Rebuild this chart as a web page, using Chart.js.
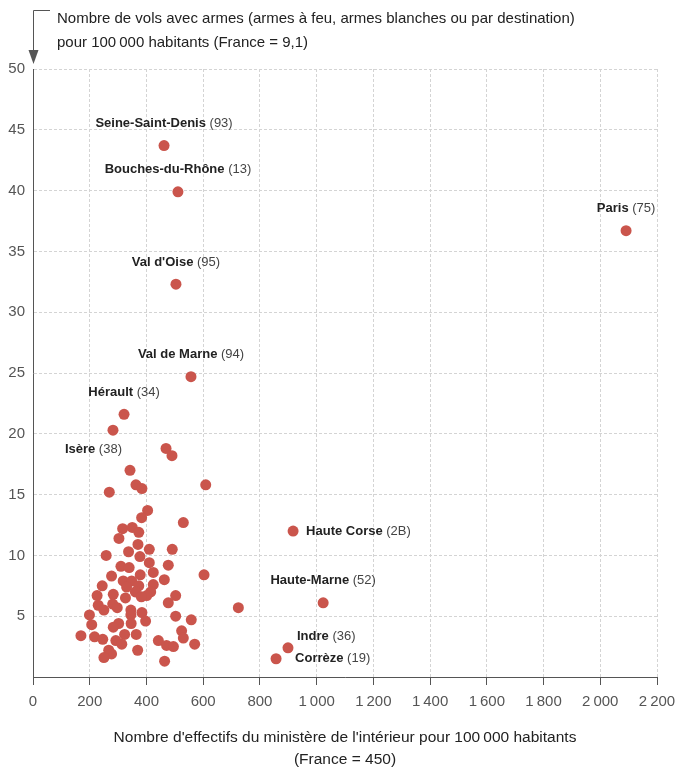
<!DOCTYPE html>
<html>
<head>
<meta charset="utf-8">
<script src="https://cdn.jsdelivr.net/npm/chart.js@4"></script>
<style>
  body { margin: 0; background: #fff; }
  #wrap { width: 677px; height: 767px; position: relative; }
</style>
</head>
<body>
<div id="wrap"><canvas id="chart"></canvas></div>
<script>
// labelled departements
const deptNames = ['Seine-Saint-Denis', 'Bouches-du-Rhône', 'Paris', "Val d'Oise", 'Val de Marne',
  'Hérault', 'Isère', 'Haute Corse', 'Haute-Marne', 'Indre', 'Corrèze'];
const deptCodes = ['93', '13', '75', '95', '94', '34', '38', '2B', '52', '36', '19'];
const deptX = [462, 511, 2091, 504, 557, 321, 282, 917, 1023, 899, 857];
const deptY = [43.7, 39.9, 36.7, 32.3, 24.7, 21.6, 20.3, 12.0, 6.1, 2.4, 1.5];

// other departements
const otherX = [469, 490, 342, 363, 384, 269, 609, 404, 383, 530, 316, 350, 373, 303, 370, 337, 410, 491,
  258, 377, 410, 477, 310, 339, 424, 378, 277, 603, 463, 318, 348, 373, 424, 244, 330, 361, 415, 401, 226,
  283, 503, 326, 382, 477, 281, 297, 230, 250, 345, 384, 724, 199, 503, 345, 207, 397, 558, 302, 283, 346,
  524, 169, 217, 246, 323, 364, 292, 313, 442, 530, 471, 495, 570, 267, 277, 250, 369, 464];
const otherY = [18.8, 18.2, 17.0, 15.8, 15.5, 15.2, 15.8, 13.7, 13.1, 12.7, 12.2, 12.3, 11.9, 11.4, 10.9, 10.3, 10.5, 10.5,
  10.0, 9.9, 9.4, 9.2, 9.1, 9.0, 8.6, 8.4, 8.3, 8.4, 8.0, 7.9, 7.9, 7.5, 7.6, 7.5, 7.4, 7.0, 7.0, 6.7, 6.7,
  6.8, 6.7, 6.5, 6.6, 6.1, 6.0, 5.7, 5.9, 5.5, 5.5, 5.3, 5.7, 5.1, 5.0, 5.1, 4.3, 4.6, 4.7, 4.4, 4.1, 4.4,
  3.8, 3.4, 3.3, 3.1, 3.5, 3.5, 3.0, 2.7, 3.0, 3.2, 2.6, 2.5, 2.7, 2.2, 1.9, 1.6, 2.2, 1.3];

const xTicks = [0, 200, 400, 600, 800, 1000, 1200, 1400, 1600, 1800, 2000, 2200];

const FONT = "'Liberation Sans', Arial, sans-serif";
const DOT = '#ca554c';

function fmt(v) {
  return String(v).replace(/\B(?=(\d{3})+(?!\d))/g, '\u2009');
}

// where each label sits relative to its dot
const placement = {
  'Isère': { dx: 9, dy: 19, align: 'right' },
  'Haute Corse': { dx: 13, dy: 0, align: 'left' },
  'Indre': { dx: 9, dy: -11, align: 'left' },
  'Corrèze': { dx: 19, dy: 0, align: 'left' }
};

const labelPlugin = {
  id: 'deptLabels',
  afterDatasetsDraw(chart) {
    const ctx = chart.ctx;
    const meta = chart.getDatasetMeta(0);
    ctx.save();
    ctx.textBaseline = 'middle';
    meta.data.forEach((pt, i) => {
      const bold = deptNames[i];
      const norm = ' (' + deptCodes[i] + ')';
      ctx.font = 'bold 13px ' + FONT;
      const wb = ctx.measureText(bold).width;
      ctx.font = '13px ' + FONT;
      const wn = ctx.measureText(norm).width;
      const p = placement[bold] || { dx: 0, dy: -22, align: 'center' };
      let x0;
      if (p.align === 'center') x0 = pt.x - (wb + wn) / 2;
      else if (p.align === 'left') x0 = pt.x + p.dx;
      else x0 = pt.x + p.dx - (wb + wn);
      const y = pt.y + p.dy;
      ctx.textAlign = 'left';
      ctx.fillStyle = '#222';
      ctx.font = 'bold 13px ' + FONT;
      ctx.fillText(bold, x0, y);
      ctx.fillStyle = '#444';
      ctx.font = '13px ' + FONT;
      ctx.fillText(norm, x0 + wb, y);
    });
    ctx.restore();
  }
};

const headerPlugin = {
  id: 'header',
  afterDraw(chart) {
    const ctx = chart.ctx;
    const x = chart.chartArea.left + 0.5;
    ctx.save();
    ctx.strokeStyle = '#555';
    ctx.fillStyle = '#555';
    ctx.lineWidth = 1;
    ctx.beginPath();
    ctx.moveTo(50, 10.5);
    ctx.lineTo(x, 10.5);
    ctx.lineTo(x, 52);
    ctx.stroke();
    ctx.beginPath();
    ctx.moveTo(x - 5, 50);
    ctx.lineTo(x + 5, 50);
    ctx.lineTo(x, 64);
    ctx.closePath();
    ctx.fill();
    ctx.fillStyle = '#222';
    ctx.font = '15px ' + FONT;
    ctx.textAlign = 'left';
    ctx.textBaseline = 'alphabetic';
    ctx.fillText('Nombre de vols avec armes (armes à feu, armes blanches ou par destination)', 57, 23);
    ctx.fillText('pour 100\u2009000 habitants (France = 9,1)', 57, 47);
    ctx.restore();
  }
};

new Chart(document.getElementById('chart'), {
  type: 'scatter',
  data: {
    datasets: [
      {
        data: deptX.map((x, i) => ({ x: x, y: deptY[i] })),
        backgroundColor: DOT,
        borderWidth: 0,
        pointRadius: 5.5
      },
      {
        data: otherX.map((x, i) => ({ x: x, y: otherY[i] })),
        backgroundColor: DOT,
        borderWidth: 0,
        pointRadius: 5.5
      }
    ]
  },
  options: {
    responsive: true,
    maintainAspectRatio: false,
    animation: false,
    layout: { padding: { top: 69, right: 20, left: 0, bottom: 0 } },
    plugins: {
      legend: { display: false },
      tooltip: { enabled: false }
    },
    scales: {
      x: {
        type: 'linear',
        min: 0,
        max: 2200,
        afterBuildTicks: (s) => { s.ticks = xTicks.map(v => ({ value: v })); },
        afterFit: (s) => { s.height = 90; s.paddingLeft = 0; s.paddingRight = 0; },
        ticks: {
          color: '#555',
          font: { family: FONT, size: 15 },
          padding: 8,
          maxRotation: 0,
          autoSkip: false,
          callback: (v) => fmt(v)
        },
        grid: {
          color: '#d4d4d4',
          tickBorderDash: [],
          tickColor: '#555',
          tickLength: 8
        },
        border: { color: '#555', dash: [3, 2] },
        title: {
          display: true,
          text: ["Nombre d'effectifs du ministère de l'intérieur pour 100\u2009000 habitants", '(France = 450)'],
          color: '#222',
          font: { family: FONT, size: 15.5, lineHeight: 1.45 },
          padding: { top: 16, bottom: -4 }
        }
      },
      y: {
        min: 0,
        max: 50,
        afterFit: (s) => { s.width = 33; },
        ticks: {
          stepSize: 5,
          color: '#555',
          font: { family: FONT, size: 15 },
          padding: 8,
          callback: (v) => (v === 0 ? '' : v)
        },
        grid: {
          color: '#d4d4d4',
          tickLength: 0
        },
        border: { color: '#555', dash: [3, 2] }
      }
    }
  },
  plugins: [labelPlugin, headerPlugin]
});
</script>
</body>
</html>
